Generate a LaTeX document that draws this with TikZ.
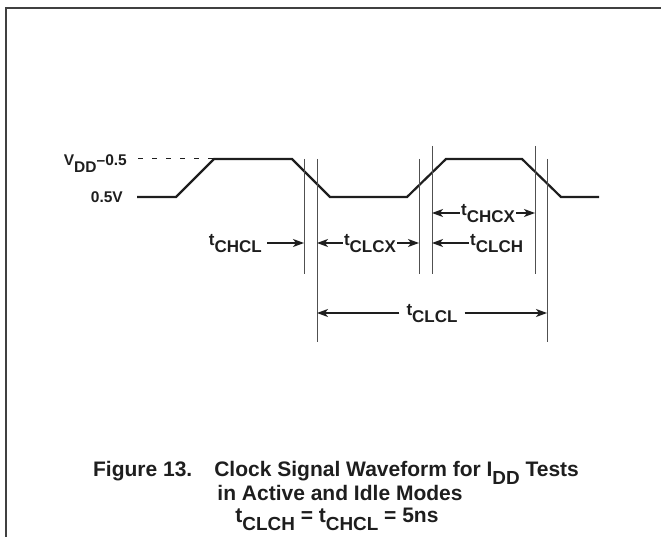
\documentclass[tikz,border=0pt]{standalone}
\usepackage{fontspec}
\setmainfont{Liberation Sans}
\usepackage{tikz}
\usetikzlibrary{arrows.meta}
\definecolor{ink}{HTML}{1E1E1E}
\definecolor{guide}{HTML}{505050}
\newcommand{\lo}[2][1]{\raisebox{-0.42em}{\scalebox{#1}{#2}}}
\tikzstyle{frame} = [draw=ink!85, line width=2pt]
\tikzstyle{wave} = [draw=ink, line width=2.2pt]
\tikzstyle{level} = [draw=ink, line width=1pt, dash pattern=on 5pt off 9pt]
\tikzstyle{guideline} = [draw=guide, line width=1pt]
\tikzstyle{arrow} = [draw=ink, line width=1.1pt, -{Stealth[length=11pt,width=8pt,inset=3pt]}]
\tikzstyle{vlabel} = [font=\fontsize{15.5}{18}\selectfont\bfseries, text=ink, inner sep=1pt]
\tikzstyle{tlabel} = [font=\fontsize{17}{19}\selectfont\bfseries, text=ink, inner sep=1pt]
\tikzstyle{caption} = [font=\fontsize{21}{24}\selectfont\bfseries, text=ink, inner sep=0pt, anchor=base]

\begin{document}
\begin{tikzpicture}[x=1pt, y=-1pt]
	\useasboundingbox (0,0) rectangle (661,537);
	\draw [frame] (6,537) -- (6,8) -- (661,8);

	% clock waveform
	\draw [level] (138,159) -- (214,159);
	\draw [wave] (137,197) -- (176,197) -- (214,159) -- (292,159) -- (330,197)
		-- (407,197) -- (446,159) -- (522,159) -- (561,197) -- (599,197);
	\node (vhigh) [vlabel, anchor=base east] at (128,166) {V\lo{DD}--0.5};
	\node (vlow) [vlabel, anchor=east] at (124,197) {0.5V};

	% timing marks
	\coordinate (m1t) at (304,159); \coordinate (m1b) at (304,274);
	\coordinate (m2t) at (317,159); \coordinate (m2b) at (317,342);
	\coordinate (m3t) at (419,159); \coordinate (m3b) at (419,274);
	\coordinate (m4t) at (432,146); \coordinate (m4b) at (432,274);
	\coordinate (m5t) at (535,146); \coordinate (m5b) at (535,274);
	\coordinate (m6t) at (547,159); \coordinate (m6b) at (547,342);
	\foreach \m in {m1,m2,m3,m4,m5,m6}
		\draw [guideline] (\m t) -- (\m b);

	\node (tCHCL) [tlabel, anchor=mid east] at (263,243) {t\lo{CHCL}};
	\node (tCLCX) [tlabel, anchor=mid] at (370,243) {t\lo{CLCX}};
	\node (tCHCX) [tlabel, anchor=mid] at (488,213) {t\lo{CHCX}};
	\node (tCLCH) [tlabel, anchor=mid west] at (469,243) {t\lo{CLCH}};
	\node (tCLCL) [tlabel, anchor=mid, inner sep=7pt] at (432,313) {t\lo{CLCL}};

	\draw [arrow] ([xshift=4pt]tCHCL.mid east) -- (tCHCL.mid east -| m1t);
	\draw [arrow] (tCLCX.mid west) -- (tCLCX.mid west -| m2t);
	\draw [arrow] (tCLCX.mid east) -- (tCLCX.mid east -| m3t);
	\draw [arrow] (tCHCX.mid west) -- (tCHCX.mid west -| m4t);
	\draw [arrow] (tCHCX.mid east) -- (tCHCX.mid east -| m5t);
	\draw [arrow] (tCLCH.mid west) -- (tCLCH.mid west -| m4t);
	\draw [arrow] (tCLCL.mid west) -- (tCLCL.mid west -| m2t);
	\draw [arrow] (tCLCL.mid east) -- (tCLCL.mid east -| m6t);

	% caption
	\node (cap1) [caption] at (336,476) {Figure 13.\hspace{22pt}Clock Signal Waveform for I\lo[0.9]{DD} Tests};
	\node (cap2) [caption] at (340,500) {in Active and Idle Modes};
	\node (cap3) [caption] at (337,522) {t\lo[0.9]{CLCH} = t\lo[0.9]{CHCL} = 5ns};
\end{tikzpicture}
\end{document}
